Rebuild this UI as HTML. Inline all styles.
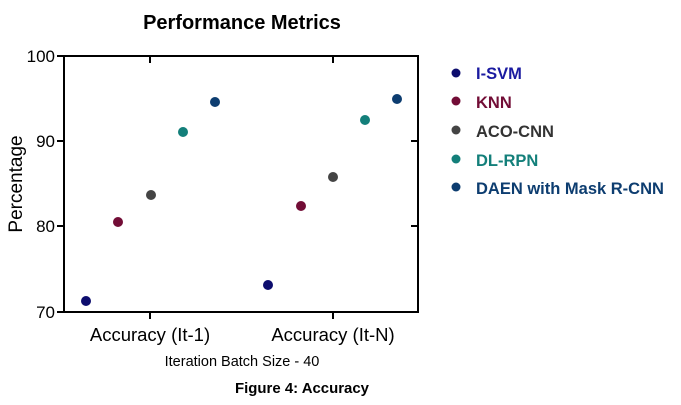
<!DOCTYPE html>
<html><head><style>body{margin:0;background:#fff}svg{display:block}</style></head><body>
<svg width="681" height="405" xmlns="http://www.w3.org/2000/svg" font-family="Liberation Sans, sans-serif">
<text x="242" y="29" text-anchor="middle" font-size="20" font-weight="bold">Performance Metrics</text>
<rect x="64" y="56" width="354" height="256" fill="none" stroke="#000" stroke-width="2"/>
<g stroke="#000" stroke-width="2">
<line x1="57" y1="56" x2="64" y2="56"/><line x1="57" y1="141" x2="64" y2="141"/><line x1="57" y1="226" x2="64" y2="226"/><line x1="57" y1="312" x2="64" y2="312"/>
<line x1="411" y1="141" x2="418" y2="141"/><line x1="411" y1="226" x2="418" y2="226"/>
<line x1="150" y1="312" x2="150" y2="319"/><line x1="333" y1="312" x2="333" y2="319"/>
<line x1="150" y1="56" x2="150" y2="63"/><line x1="333" y1="56" x2="333" y2="63"/>
</g>
<g font-size="17" text-anchor="end">
<text x="55" y="62">100</text><text x="55" y="147">90</text><text x="55" y="232">80</text><text x="55" y="318">70</text>
</g>
<text transform="translate(22,184) rotate(-90)" text-anchor="middle" font-size="19">Percentage</text>
<text x="150" y="341" text-anchor="middle" font-size="18.5">Accuracy (It-1)</text>
<text x="333" y="341" text-anchor="middle" font-size="18.5">Accuracy (It-N)</text>
<text x="242" y="366" text-anchor="middle" font-size="14.5">Iteration Batch Size - 40</text>
<text x="302" y="393" text-anchor="middle" font-size="15" font-weight="bold" textLength="134" lengthAdjust="spacingAndGlyphs">Figure 4: Accuracy</text>
<g>
<circle cx="86" cy="301" r="5" fill="#0d0d6e"/>
<circle cx="118" cy="222" r="5" fill="#720d36"/>
<circle cx="151" cy="195" r="5" fill="#444"/>
<circle cx="183" cy="132" r="5" fill="#137f7a"/>
<circle cx="215" cy="102" r="5" fill="#0d3d70"/>
<circle cx="268" cy="285" r="5" fill="#0d0d6e"/>
<circle cx="301" cy="206" r="5" fill="#720d36"/>
<circle cx="333" cy="177" r="5" fill="#444"/>
<circle cx="365" cy="120" r="5" fill="#137f7a"/>
<circle cx="397" cy="99" r="5" fill="#0d3d70"/>
</g>
<g font-size="16.5" font-weight="bold">
<circle cx="456" cy="73" r="4.5" fill="#0d0d6e"/><text x="476" y="79" fill="#1a1aa0">I-SVM</text>
<circle cx="456" cy="101" r="4.5" fill="#720d36"/><text x="476" y="108" fill="#720d36">KNN</text>
<circle cx="456" cy="130" r="4.5" fill="#444"/><text x="476" y="137" fill="#333">ACO-CNN</text>
<circle cx="456" cy="159" r="4.5" fill="#137f7a"/><text x="476" y="166" fill="#137f7a">DL-RPN</text>
<circle cx="456" cy="187" r="4.5" fill="#0d3d70"/><text x="476" y="194" fill="#0d3d70">DAEN with Mask R-CNN</text>
</g>
</svg>
</body></html>
